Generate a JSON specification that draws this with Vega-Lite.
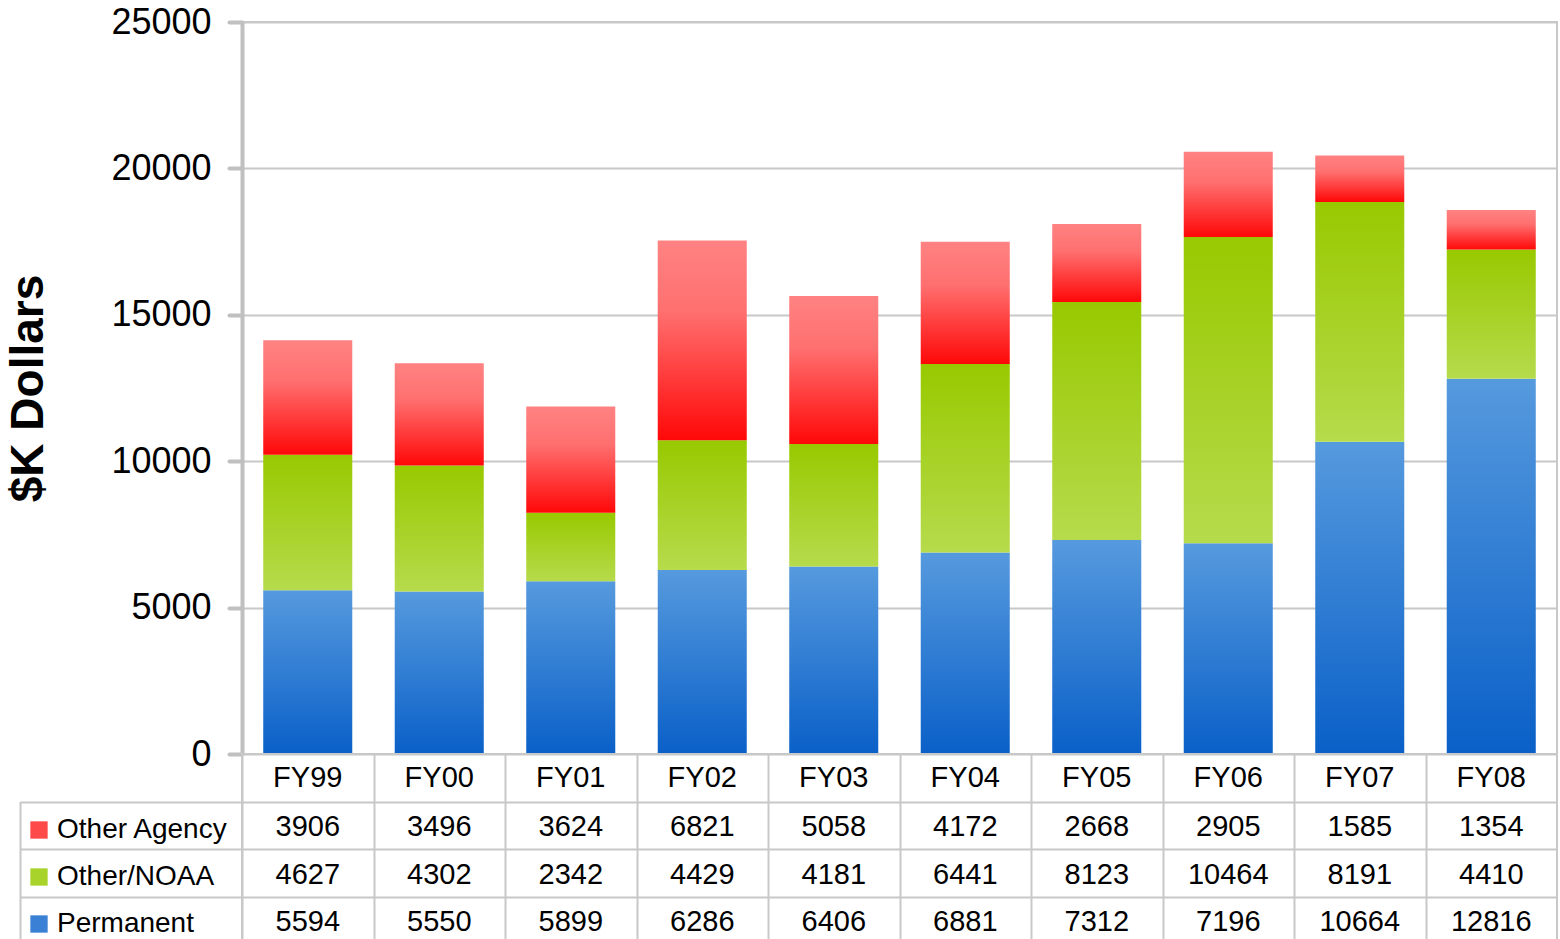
{
  "$schema": "https://vega.github.io/schema/vega-lite/v6.json",
  "padding": {"left": 4, "top": 3, "right": 0, "bottom": 0},
  "background": "white",
  "spacing": 0,
  "bounds": "flush",
  "config": {
    "font": "Liberation Sans",
    "view": {"stroke": "#c8c8c8", "strokeWidth": 2}
  },
  "data": {
    "values": [
      {"fy": "FY99", "series": "Other Agency", "value": 3906},
      {"fy": "FY00", "series": "Other Agency", "value": 3496},
      {"fy": "FY01", "series": "Other Agency", "value": 3624},
      {"fy": "FY02", "series": "Other Agency", "value": 6821},
      {"fy": "FY03", "series": "Other Agency", "value": 5058},
      {"fy": "FY04", "series": "Other Agency", "value": 4172},
      {"fy": "FY05", "series": "Other Agency", "value": 2668},
      {"fy": "FY06", "series": "Other Agency", "value": 2905},
      {"fy": "FY07", "series": "Other Agency", "value": 1585},
      {"fy": "FY08", "series": "Other Agency", "value": 1354},
      {"fy": "FY99", "series": "Other/NOAA", "value": 4627},
      {"fy": "FY00", "series": "Other/NOAA", "value": 4302},
      {"fy": "FY01", "series": "Other/NOAA", "value": 2342},
      {"fy": "FY02", "series": "Other/NOAA", "value": 4429},
      {"fy": "FY03", "series": "Other/NOAA", "value": 4181},
      {"fy": "FY04", "series": "Other/NOAA", "value": 6441},
      {"fy": "FY05", "series": "Other/NOAA", "value": 8123},
      {"fy": "FY06", "series": "Other/NOAA", "value": 10464},
      {"fy": "FY07", "series": "Other/NOAA", "value": 8191},
      {"fy": "FY08", "series": "Other/NOAA", "value": 4410},
      {"fy": "FY99", "series": "Permanent", "value": 5594},
      {"fy": "FY00", "series": "Permanent", "value": 5550},
      {"fy": "FY01", "series": "Permanent", "value": 5899},
      {"fy": "FY02", "series": "Permanent", "value": 6286},
      {"fy": "FY03", "series": "Permanent", "value": 6406},
      {"fy": "FY04", "series": "Permanent", "value": 6881},
      {"fy": "FY05", "series": "Permanent", "value": 7312},
      {"fy": "FY06", "series": "Permanent", "value": 7196},
      {"fy": "FY07", "series": "Permanent", "value": 10664},
      {"fy": "FY08", "series": "Permanent", "value": 12816}
    ]
  },
  "vconcat": [
    {
      "width": 1315,
      "height": 732,
      "transform": [
        {"stack": "value", "groupby": ["fy"], "sort": [{"field": "series", "order": "descending"}], "as": ["v0", "v1"]}
      ],
      "encoding": {
        "x": {
          "field": "fy", "type": "nominal", "sort": null,
          "scale": {"paddingInner": 0, "paddingOuter": 0},
          "axis": null
        },
        "y": {
          "field": "v1", "type": "quantitative",
          "scale": {"domain": [0, 25000], "nice": false},
          "axis": {
            "values": [0, 5000, 10000, 15000, 20000, 25000],
            "format": "d",
            "title": "$K Dollars",
            "titleFontSize": 46,
            "titleFontWeight": "bold",
            "titleColor": "black",
            "titlePadding": 58,
            "labelFontSize": 36,
            "labelColor": "black",
            "labelPadding": 18,
            "tickSize": 13,
            "tickWidth": 4,
            "tickCap": "round",
            "tickColor": "#c0c0c0",
            "domainColor": "#c0c0c0",
            "domainWidth": 4,
            "gridColor": "#c8c8c8",
            "gridWidth": 2
          }
        },
        "y2": {"field": "v0"}
      },
      "layer": [
        {
          "transform": [{"filter": "datum.series === 'Permanent'"}],
          "mark": {"type": "bar", "width": {"band": 0.677},
            "color": {"gradient": "linear", "x1": 0, "y1": 0, "x2": 0, "y2": 1, "stops": [{"offset": 0, "color": "#569ade"}, {"offset": 1, "color": "#0a60c8"}]}}
        },
        {
          "transform": [{"filter": "datum.series === 'Other/NOAA'"}],
          "mark": {"type": "bar", "width": {"band": 0.677},
            "color": {"gradient": "linear", "x1": 0, "y1": 0, "x2": 0, "y2": 1, "stops": [{"offset": 0, "color": "#98c900"}, {"offset": 1, "color": "#b6db4c"}]}}
        },
        {
          "transform": [{"filter": "datum.series === 'Other Agency'"}],
          "mark": {"type": "bar", "width": {"band": 0.677},
            "color": {"gradient": "linear", "x1": 0, "y1": 0, "x2": 0, "y2": 1, "stops": [{"offset": 0, "color": "#ff8282"}, {"offset": 0.35, "color": "#ff7070"}, {"offset": 1, "color": "#ff0808"}]}}
        },
        {
          "mark": {"type": "text", "text": ""},
          "encoding": {
            "color": {
              "field": "series", "type": "nominal",
              "scale": {
                "domain": ["Other Agency", "Other/NOAA", "Permanent"],
                "range": ["#ff4a4a", "#a8d32a", "#3a80d4"]
              },
              "legend": {
                "orient": "none",
                "legendX": -217,
                "legendY": 794,
                "title": null,
                "symbolType": "square",
                "symbolSize": 300,
                "symbolStrokeWidth": 0,
                "symbolOpacity": 1,
                "labelFontSize": 28,
                "labelColor": "black",
                "labelOffset": 4,
                "labelLimit": 400,
                "rowPadding": 19,
                "padding": 0,
                "encode": {
                  "symbols": {
                    "update": {
                      "fill": {"signal": "datum.value === 'Other Agency' ? {gradient: 'linear', x1: 0, y1: 0, x2: 0, y2: 1, stops: [{offset: 0, color: '#ff8282'}, {offset: 1, color: '#ff0808'}]} : datum.value === 'Other/NOAA' ? {gradient: 'linear', x1: 0, y1: 0, x2: 0, y2: 1, stops: [{offset: 0, color: '#98c900'}, {offset: 1, color: '#b6db4c'}]} : {gradient: 'linear', x1: 0, y1: 0, x2: 0, y2: 1, stops: [{offset: 0, color: '#569ade'}, {offset: 1, color: '#0a60c8'}]}"},
                      "opacity": {"value": 1}
                    }
                  }
                }
              }
            }
          }
        }
      ]
    },
    {
      "width": 1315,
      "height": 190,
      "encoding": {
        "x": {
          "field": "fy", "type": "nominal", "sort": null,
          "scale": {"paddingInner": 0, "paddingOuter": 0},
          "axis": {
            "grid": true, "tickBand": "extent", "labels": false, "ticks": false,
            "domain": false, "title": null,
            "gridColor": "#c8c8c8", "gridWidth": 2
          }
        }
      },
      "layer": [
        {
          "transform": [{"filter": "datum.series === 'Permanent'"}],
          "mark": {"type": "text", "fontSize": 29, "color": "black"},
          "encoding": {
            "y": {
              "datum": "FY", "type": "nominal",
              "scale": {"domain": ["FY", "Other Agency", "Other/NOAA", "Permanent"], "paddingInner": 0, "paddingOuter": 0},
              "axis": {
                "values": ["Other Agency", "Other/NOAA", "Permanent"],
                "tickBand": "extent", "grid": true, "labels": false, "title": null,
                "offset": 222, "tickSize": -222, "tickColor": "#c8c8c8", "tickWidth": 2,
                "domain": true, "domainColor": "#c8c8c8", "domainWidth": 2,
                "domainDash": [0, 47.5, 400],
                "gridColor": "#c8c8c8", "gridWidth": 2
              }
            },
            "text": {"field": "fy"}
          }
        },
        {
          "mark": {"type": "text", "fontSize": 29, "color": "black", "dy": 2},
          "encoding": {
            "y": {"field": "series", "type": "nominal"},
            "text": {"field": "value", "type": "quantitative", "format": "d"}
          }
        }
      ]
    }
  ],
  "resolve": {"scale": {"x": "independent", "y": "independent"}}
}
